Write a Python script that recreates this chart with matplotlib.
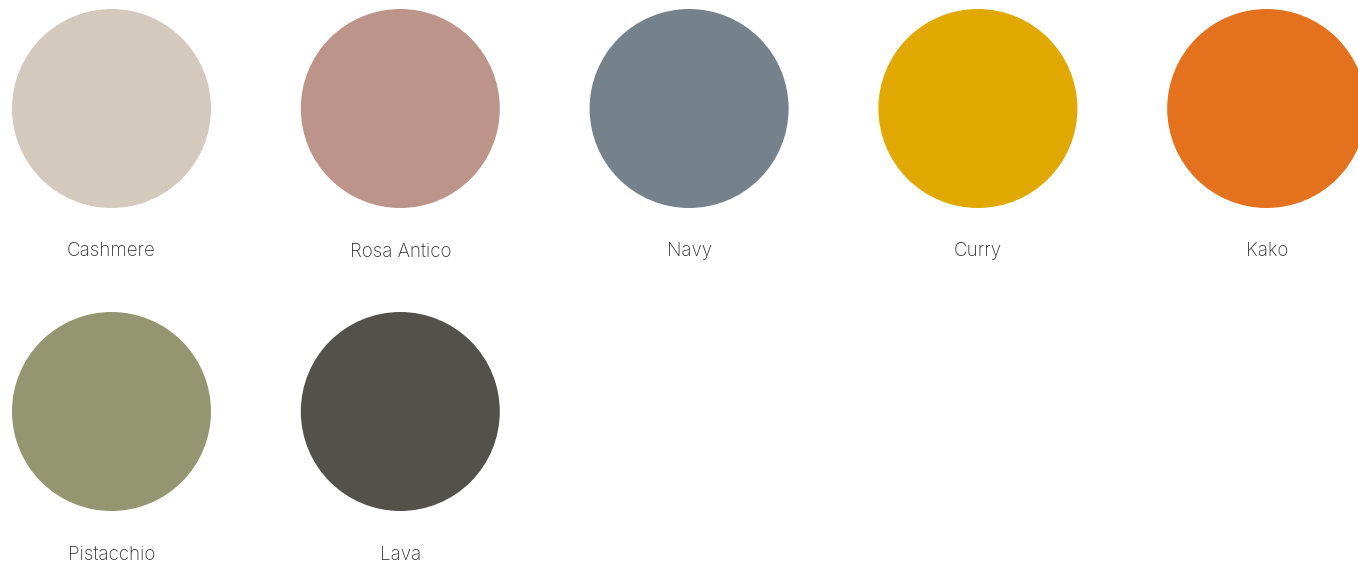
import matplotlib
matplotlib.use("Agg")
import matplotlib.pyplot as plt
from matplotlib.patches import Circle

# Colour swatches
names = ["Cashmere", "Rosa Antico", "Navy", "Curry", "Kako", "Pistacchio", "Lava"]
colors = ["#D3C9BC", "#BC9489", "#76828B", "#E0A800", "#E4711E", "#949571", "#52514B"]
cols = [0, 1, 2, 3, 4, 0, 1]
rows = [0, 0, 0, 0, 0, 1, 1]

plt.rcParams['font.family'] = ['Inter', 'DejaVu Sans']

fig = plt.figure(figsize=(13.58, 5.71), dpi=100)
ax = fig.add_axes([0, 0, 1, 1])
ax.set_xlim(0, 1358)
ax.set_ylim(571, 0)
ax.set_aspect('equal')
ax.axis('off')

x0, dx = 111.5, 288.8
y0, dy = 108.5, 303
r = 99.5

for name, c, col, row in zip(names, colors, cols, rows):
    cx = x0 + col * dx
    cy = y0 + row * dy
    ax.add_patch(Circle((cx, cy), r, facecolor=c, edgecolor='none'))
    ax.text(cx, cy + 143, name, ha='center', va='center',
            fontsize=13.5, fontweight='light', color='#333333')

fig.savefig("out.png", dpi=100)
